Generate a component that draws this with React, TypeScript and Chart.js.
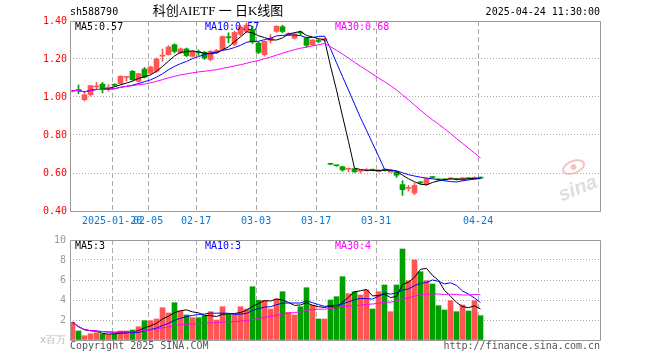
import React, { useEffect, useRef } from "react";
import { Chart, registerables } from "chart.js";

Chart.register(...registerables);

const symbol = "sh588790";
const title = "科创AIETF 一 日K线图";
const timestamp = "2025-04-24 11:30:00";
const priceMaLabels = ["MA5:0.57", "MA10:0.57", "MA30:0.68"];
const volMaLabels = ["MA5:3", "MA10:3", "MA30:4"];

const dates = [
  "2025-01-09","2025-01-10","2025-01-13","2025-01-14","2025-01-15","2025-01-16","2025-01-17",
  "2025-01-20","2025-01-21","2025-01-22","2025-01-23","2025-01-24","2025-01-27",
  "2025-02-05","2025-02-06","2025-02-07","2025-02-10","2025-02-11","2025-02-12","2025-02-13","2025-02-14",
  "2025-02-17","2025-02-18","2025-02-19","2025-02-20","2025-02-21","2025-02-24","2025-02-25","2025-02-26","2025-02-27","2025-02-28",
  "2025-03-03","2025-03-04","2025-03-05","2025-03-06","2025-03-07","2025-03-10","2025-03-11","2025-03-12","2025-03-13","2025-03-14",
  "2025-03-17","2025-03-18","2025-03-19","2025-03-20","2025-03-21","2025-03-24","2025-03-25","2025-03-26","2025-03-27","2025-03-28",
  "2025-03-31",
  "2025-04-01","2025-04-02","2025-04-03","2025-04-07","2025-04-08","2025-04-09","2025-04-10","2025-04-11",
  "2025-04-14","2025-04-15","2025-04-16","2025-04-17","2025-04-18","2025-04-21","2025-04-22","2025-04-23","2025-04-24",
];

const opens = [
  1.030, 1.037, 0.986, 1.012, 1.053, 1.068, 1.046, 1.065, 1.070, 1.103,
  1.135, 1.082, 1.147, 1.126, 1.135, 1.215, 1.223, 1.275, 1.232, 1.253,
  1.214, 1.237, 1.235, 1.197, 1.232, 1.250, 1.316, 1.278, 1.330, 1.345,
  1.355, 1.284, 1.223, 1.298, 1.346, 1.370, 1.325, 1.310, 1.341, 1.312,
  1.275, 1.296, 1.298,
  0.648, 0.640, 0.633, 0.620, 0.623, 0.609, 0.613, 0.617, 0.607, 0.617,
  0.605, 0.605, 0.539, 0.519, 0.495, 0.550, 0.539, 0.578, 0.566, 0.566,
  0.569, 0.567, 0.563, 0.571, 0.570, 0.577,
];
const highs = [
  1.036, 1.063, 1.018, 1.062, 1.077, 1.077, 1.065, 1.070, 1.112, 1.106,
  1.140, 1.125, 1.155, 1.162, 1.205, 1.253, 1.270, 1.280, 1.258, 1.258,
  1.245, 1.248, 1.240, 1.245, 1.250, 1.322, 1.338, 1.346, 1.375, 1.390,
  1.372, 1.290, 1.296, 1.328, 1.376, 1.378, 1.338, 1.336, 1.348, 1.315,
  1.302, 1.305, 1.310,
  0.651, 0.641, 0.636, 0.622, 0.625, 0.614, 0.623, 0.620, 0.618, 0.620,
  0.615, 0.607, 0.560, 0.535, 0.547, 0.554, 0.573, 0.582, 0.569, 0.569,
  0.575, 0.570, 0.576, 0.574, 0.580, 0.579,
];
const lows = [
  1.026, 1.018, 0.979, 1.005, 1.039, 1.021, 1.030, 1.055, 1.066, 1.083,
  1.088, 1.078, 1.100, 1.120, 1.130, 1.188, 1.220, 1.232, 1.228, 1.212,
  1.210, 1.218, 1.198, 1.190, 1.228, 1.245, 1.285, 1.270, 1.322, 1.340,
  1.282, 1.228, 1.215, 1.284, 1.340, 1.338, 1.322, 1.305, 1.325, 1.262,
  1.270, 1.285, 1.295,
  0.643, 0.635, 0.609, 0.606, 0.603, 0.600, 0.609, 0.611, 0.605, 0.610,
  0.603, 0.577, 0.482, 0.505, 0.486, 0.542, 0.535, 0.572, 0.560, 0.561,
  0.565, 0.562, 0.561, 0.567, 0.567, 0.570,
];
const closes = [
  1.034, 1.034, 1.012, 1.060, 1.058, 1.039, 1.051, 1.062, 1.109, 1.105,
  1.091, 1.123, 1.105, 1.158, 1.200, 1.218, 1.263, 1.240, 1.253, 1.218,
  1.240, 1.234, 1.205, 1.240, 1.245, 1.318, 1.312, 1.340, 1.368, 1.378,
  1.290, 1.235, 1.293, 1.310, 1.372, 1.345, 1.335, 1.333, 1.337, 1.272,
  1.300, 1.292, 1.306,
  0.646, 0.638, 0.616, 0.621, 0.606, 0.611, 0.616, 0.615, 0.615, 0.615,
  0.612, 0.588, 0.512, 0.522, 0.535, 0.548, 0.570, 0.576, 0.564, 0.564,
  0.571, 0.565, 0.574, 0.570, 0.577, 0.573,
];
// volume, in millions of shares
const volumes = [
  1.77, 0.90, 0.43, 0.63, 0.73, 0.60, 0.55, 0.60, 0.90, 0.90,
  1.00, 1.33, 1.93, 1.93, 2.10, 3.23, 2.70, 3.73, 2.90, 2.50,
  2.23, 2.23, 2.43, 2.83, 2.00, 3.33, 2.57, 2.50, 3.33, 3.10,
  5.33, 3.97, 3.97, 3.10, 4.10, 4.83, 2.77, 2.50, 3.33, 5.23,
  3.50, 2.10, 2.10, 4.00, 4.33, 6.33, 4.63, 4.83, 4.50, 5.00,
  3.10, 4.83, 5.50, 2.83, 5.50, 9.10, 5.93, 8.00, 6.83, 5.93,
  5.60, 3.43, 3.00, 3.93, 2.83, 3.50, 2.90, 3.93, 2.43,
];

const tickDates = ["2025-01-20", "2025-02-05", "2025-02-17", "2025-03-03", "2025-03-17", "2025-03-31", "2025-04-24"];
const priceTicks = [0.4, 0.6, 0.8, 1.0, 1.2, 1.4];
const volTicks = [0, 2, 4, 6, 8, 10];
const maPeriods = [5, 10, 30];

const MONO = '"DejaVu Sans Mono", monospace';
const UP = "#ff5555";
const DOWN = "#00a000";
const MA_COLORS = ["#000000", "#0000ff", "#ff00ff"];
const GRID = "#aaaaaa";
const FRAME = "#999999";
const XBLUE = "#0a78d2";

// linear x: 6px per trading day, first bar centred 2.5px inside the frame
const X_MIN = -2.5 / 6;
const X_MAX = X_MIN + 530 / 6;
const TICK_SHIFT = -0.4;

function movingAvg(src: number[], n: number): number[] {
  return src.map((_, i) => {
    const s = Math.max(0, i - n + 1);
    let t = 0;
    for (let k = s; k <= i; k++) t += src[k];
    return t / (i - s + 1);
  });
}

const tickIdx = tickDates.map((d) => dates.indexOf(d));
const tickLabels = tickDates.map((d, k) => (k === 0 ? d : d.slice(5)));
const upDown = closes.map((c, i) => (c >= opens[i] ? UP : DOWN));

function xScale(showLabels: boolean, height: number) {
  return {
    type: "linear",
    min: X_MIN,
    max: X_MAX,
    offset: false,
    afterBuildTicks: (s: any) => {
      s.ticks = tickIdx.map((i) => ({ value: i + TICK_SHIFT }));
    },
    afterFit: (s: any) => {
      s.height = height;
    },
    ticks: {
      display: showLabels,
      autoSkip: false,
      maxRotation: 0,
      minRotation: 0,
      padding: 4,
      color: XBLUE,
      font: { family: MONO, size: 10 },
      callback: (_v: any, idx: number) => tickLabels[idx],
    },
    grid: { color: GRID, drawTicks: false, lineWidth: 1, offset: false },
    border: { display: false, dash: [5, 3] },
  };
}

function frame(ctx: CanvasRenderingContext2D, a: any) {
  ctx.save();
  ctx.strokeStyle = FRAME;
  ctx.lineWidth = 1;
  ctx.beginPath();
  ctx.moveTo(a.left + 0.5, a.top + 0.5);
  ctx.lineTo(a.right + 0.5, a.top + 0.5);
  ctx.lineTo(a.right + 0.5, a.bottom + 0.5);
  ctx.lineTo(a.left + 0.5, a.bottom + 0.5);
  ctx.closePath();
  ctx.stroke();
  ctx.restore();
}

function maTexts(ctx: CanvasRenderingContext2D, a: any, labels: string[], y: number) {
  ctx.save();
  ctx.font = `10px ${MONO}`;
  ctx.textBaseline = "middle";
  ctx.textAlign = "left";
  const xs = [a.left + 5, a.left + 135, a.left + 265];
  labels.forEach((t, k) => {
    ctx.fillStyle = MA_COLORS[k];
    ctx.fillText(t, xs[k], y);
  });
  ctx.restore();
}

export default function App() {
  const priceRef = useRef<HTMLCanvasElement>(null);
  const volRef = useRef<HTMLCanvasElement>(null);

  useEffect(() => {
    const idxPts = (vals: number[]) => vals.map((v, i) => ({ x: i, y: v }));
    const priceMAs = maPeriods.map((n) => movingAvg(closes, n));
    const volMAs = maPeriods.map((n) => movingAvg(volumes, n));

    const pricePlugin = {
      id: "priceDecor",
      beforeDatasetsDraw(chart: any) {
        const ctx = chart.ctx as CanvasRenderingContext2D;
        const a = chart.chartArea;
        // faint sina watermark
        ctx.save();
        ctx.translate(a.right - 22, a.bottom - 22);
        ctx.rotate(-0.38);
        ctx.strokeStyle = "rgba(235,150,150,0.55)";
        ctx.lineWidth = 2;
        ctx.beginPath();
        ctx.ellipse(4, -22, 11, 6, 0, 0, Math.PI * 2);
        ctx.stroke();
        ctx.fillStyle = "rgba(235,150,150,0.55)";
        ctx.beginPath();
        ctx.arc(4, -22, 3, 0, Math.PI * 2);
        ctx.fill();
        ctx.fillStyle = "rgba(200,200,200,0.6)";
        ctx.font = 'italic bold 20px "Liberation Sans", sans-serif';
        ctx.textAlign = "center";
        ctx.textBaseline = "middle";
        ctx.fillText("sina", 0, 0);
        ctx.restore();
      },
      afterDraw(chart: any) {
        const ctx = chart.ctx as CanvasRenderingContext2D;
        const a = chart.chartArea;
        frame(ctx, a);
        ctx.save();
        ctx.fillStyle = "#000";
        ctx.textBaseline = "middle";
        ctx.font = `10px ${MONO}`;
        ctx.textAlign = "left";
        ctx.fillText(symbol, a.left, 12);
        ctx.textAlign = "right";
        ctx.fillText(timestamp, a.right, 12);
        ctx.textAlign = "center";
        ctx.font = '13px "Liberation Serif", "Noto Sans CJK SC", serif';
        ctx.fillText(title, 218, 12);
        ctx.restore();
        maTexts(ctx, a, priceMaLabels, a.top + 6);
      },
    };

    const volPlugin = {
      id: "volDecor",
      afterDraw(chart: any) {
        const ctx = chart.ctx as CanvasRenderingContext2D;
        const a = chart.chartArea;
        frame(ctx, a);
        maTexts(ctx, a, volMaLabels, a.top + 6);
        ctx.save();
        ctx.fillStyle = "#555";
        ctx.font = `10px ${MONO}`;
        ctx.textBaseline = "middle";
        ctx.textAlign = "left";
        ctx.fillText("Copyright 2025 SINA.COM", a.left, a.bottom + 6);
        ctx.textAlign = "right";
        ctx.fillText("http://finance.sina.com.cn", a.right, a.bottom + 6);
        ctx.restore();
      },
    };

    const lineDs = (vals: number[], k: number) => ({
      type: "line",
      label: `MA${maPeriods[k]}`,
      data: idxPts(vals),
      borderColor: MA_COLORS[k],
      borderWidth: 1,
      pointRadius: 0,
      tension: 0,
      order: 2 - k,
    });

    const priceChart = new Chart(priceRef.current as HTMLCanvasElement, {
      type: "bar",
      data: {
        datasets: [
          ...priceMAs.map((m, k) => lineDs(m, k)),
          {
            type: "bar",
            label: "wick",
            data: dates.map((_, i) => ({ x: i, y: [lows[i], highs[i]] })),
            backgroundColor: upDown,
            barThickness: 1,
            minBarLength: 1,
            grouped: false,
            borderWidth: 0,
            order: 4,
          },
          {
            type: "bar",
            label: "body",
            data: dates.map((_, i) => ({ x: i, y: [opens[i], closes[i]] })),
            backgroundColor: upDown,
            barThickness: 5,
            minBarLength: 1,
            grouped: false,
            borderWidth: 0,
            order: 3,
          },
        ],
      } as any,
      options: {
        responsive: false,
        animation: false,
        events: [],
        layout: { padding: { left: 0, right: 60, top: 21, bottom: 0 } },
        plugins: { legend: { display: false }, tooltip: { enabled: false }, title: { display: false } },
        scales: {
          x: xScale(true, 19),
          y: {
            type: "linear",
            min: 0.4,
            max: 1.4,
            afterBuildTicks: (s: any) => {
              s.ticks = priceTicks.map((v) => ({ value: v }));
            },
            afterFit: (s: any) => {
              s.width = 70;
            },
            ticks: {
              padding: 3,
              font: { family: MONO, size: 10 },
              color: "#ff0000",
              callback: (v: any) => Number(v).toFixed(2),
            },
            grid: {
              drawTicks: false,
              lineWidth: 1,
              color: (c: any) => (c.index === 0 || c.index === priceTicks.length - 1 ? "rgba(0,0,0,0)" : GRID),
            },
            border: { display: false, dash: [1, 2] },
          },
        } as any,
      },
      plugins: [pricePlugin],
    } as any);

    const volChart = new Chart(volRef.current as HTMLCanvasElement, {
      type: "bar",
      data: {
        datasets: [
          ...volMAs.map((m, k) => lineDs(m, k)),
          {
            type: "bar",
            label: "volume",
            data: volumes.map((v, i) => ({ x: i, y: v })),
            backgroundColor: upDown,
            barThickness: 5,
            grouped: false,
            borderWidth: 0,
            order: 3,
          },
        ],
      } as any,
      options: {
        responsive: false,
        animation: false,
        events: [],
        layout: { padding: { left: 0, right: 60, top: 10, bottom: 0 } },
        plugins: { legend: { display: false }, tooltip: { enabled: false }, title: { display: false } },
        scales: {
          x: xScale(false, 20),
          y: {
            type: "linear",
            min: 0,
            max: 10,
            afterBuildTicks: (s: any) => {
              s.ticks = volTicks.map((v) => ({ value: v }));
            },
            afterFit: (s: any) => {
              s.width = 70;
            },
            ticks: {
              padding: 4,
              font: { family: MONO, size: 10 },
              color: (c: any) => (c.tick && c.tick.value === 0 ? "#bbbbbb" : "#999999"),
              callback: (v: any) => (Number(v) === 0 ? "x百万" : String(v)),
            },
            grid: {
              drawTicks: false,
              lineWidth: 1,
              color: (c: any) => (c.index === 0 || c.index === volTicks.length - 1 ? "rgba(0,0,0,0)" : GRID),
            },
            border: { display: false, dash: [1, 2] },
          },
        } as any,
      },
      plugins: [volPlugin],
    } as any);

    return () => {
      priceChart.destroy();
      volChart.destroy();
    };
  }, []);

  return (
    <div style={{ position: "fixed", left: 0, top: 0, width: 660, height: 360, background: "#fff" }}>
      <canvas
        ref={priceRef}
        width={660}
        height={230}
        style={{ position: "absolute", left: 0, top: 0, width: 660, height: 230 }}
      />
      <canvas
        ref={volRef}
        width={660}
        height={130}
        style={{ position: "absolute", left: 0, top: 230, width: 660, height: 130 }}
      />
    </div>
  );
}
